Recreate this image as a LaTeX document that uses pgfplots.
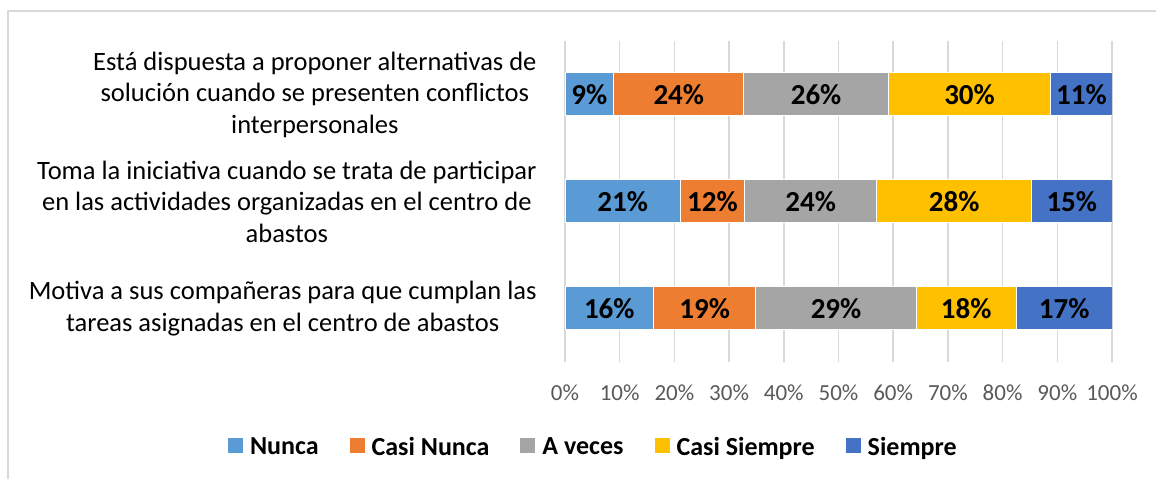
\documentclass[border=0pt]{standalone}
\usepackage{pgfplots}
\pgfplotsset{compat=1.18}
\usepackage{fontspec}
\setmainfont{Carlito}
\definecolor{cNunca}{HTML}{5B9BD5}
\definecolor{cCasiNunca}{HTML}{ED7D31}
\definecolor{cAveces}{HTML}{A5A5A5}
\definecolor{cCasiSiempre}{HTML}{FFC000}
\definecolor{cSiempre}{HTML}{4472C4}
\definecolor{gridc}{HTML}{D9D9D9}
\definecolor{tickc}{HTML}{595959}
\begin{document}
\begin{tikzpicture}
\path[use as bounding box] (0,0) rectangle (1156bp,479bp);
\draw[color=gridc, line width=1.3bp] (8bp,0) -- (8bp,468bp) -- (1156bp,468bp);
\begin{axis}[
  at={(565bp,117bp)}, anchor=south west,
  scale only axis, width=547bp, height=321bp,
  xmin=0, xmax=100, ymin=-0.5, ymax=2.5,
  xbar stacked, bar width=43bp,
  axis line style={draw=none},
  major tick length=0pt,
  xmajorgrids=true,
  grid style={color=gridc, line width=1.5bp},
  xtick={0,10,20,30,40,50,60,70,80,90,100},
  xticklabels={0\%,10\%,20\%,30\%,40\%,50\%,60\%,70\%,80\%,90\%,100\%},
  xticklabel style={font=\fontsize{23bp}{27bp}\selectfont, text=tickc, anchor=center, yshift=-31bp},
  ytick={0,1,2},
  yticklabels={
    {Motiva a sus compañeras para que cumplan las\\tareas asignadas en el centro de abastos},
    {Toma la iniciativa cuando se trata de participar\\en las actividades organizadas en el centro de\\abastos},
    {Está dispuesta a proponer alternativas de\\solución cuando se presenten conflictos\\interpersonales}},
  yticklabel style={align=center, font=\fontsize{26.5bp}{31.5bp}\selectfont, text=black, xshift=-25bp},
  legend columns=5,
  legend style={at={(0.05,-0.265)}, anchor=center, draw=none, fill=none,
    font=\bfseries\fontsize{26bp}{30bp}\selectfont,
    nodes={inner sep=0pt},
    /tikz/every odd column/.append style={column sep=7bp},
    /tikz/every even column/.append style={column sep=31bp}},
  legend image code/.code={\fill[#1,draw=none] (0bp,-6bp) rectangle (15bp,9bp);},
]
\addplot[fill=cNunca, draw=white, line width=1bp] coordinates {(16.2,0) (21.1,1) (8.9,2)};
\addplot[fill=cCasiNunca, draw=white, line width=1bp] coordinates {(18.7,0) (11.7,1) (23.8,2)};
\addplot[fill=cAveces, draw=white, line width=1bp] coordinates {(29.3,0) (24.2,1) (26.4,2)};
\addplot[fill=cCasiSiempre, draw=white, line width=1bp] coordinates {(18.3,0) (28.3,1) (29.7,2)};
\addplot[fill=cSiempre, draw=white, line width=1bp] coordinates {(17.5,0) (14.7,1) (11.2,2)};
\legend{Nunca, Casi Nunca, A veces, Casi Siempre, Siempre}
\end{axis}
\begin{axis}[
  at={(565bp,117bp)}, anchor=south west,
  scale only axis, width=547bp, height=321bp,
  xmin=0, xmax=100, ymin=-0.5, ymax=2.5,
  hide axis,
  point meta=explicit symbolic,
  nodes near coords,
  every node near coord/.append style={font=\bfseries\fontsize{29bp}{33bp}\selectfont, text=black, anchor=center},
]
\addplot[draw=none, mark=none, nodes near coords] coordinates {
  (8.1,0) [16\%] (25.55,0) [19\%] (49.55,0) [29\%] (73.35,0) [18\%] (91.25,0) [17\%]
  (10.55,1) [21\%] (26.95,1) [12\%] (44.9,1) [24\%] (71.15,1) [28\%] (92.65,1) [15\%]
  (4.45,2) [9\%] (20.8,2) [24\%] (45.9,2) [26\%] (73.95,2) [30\%] (94.4,2) [11\%]
};
\end{axis}
\end{tikzpicture}
\end{document}
